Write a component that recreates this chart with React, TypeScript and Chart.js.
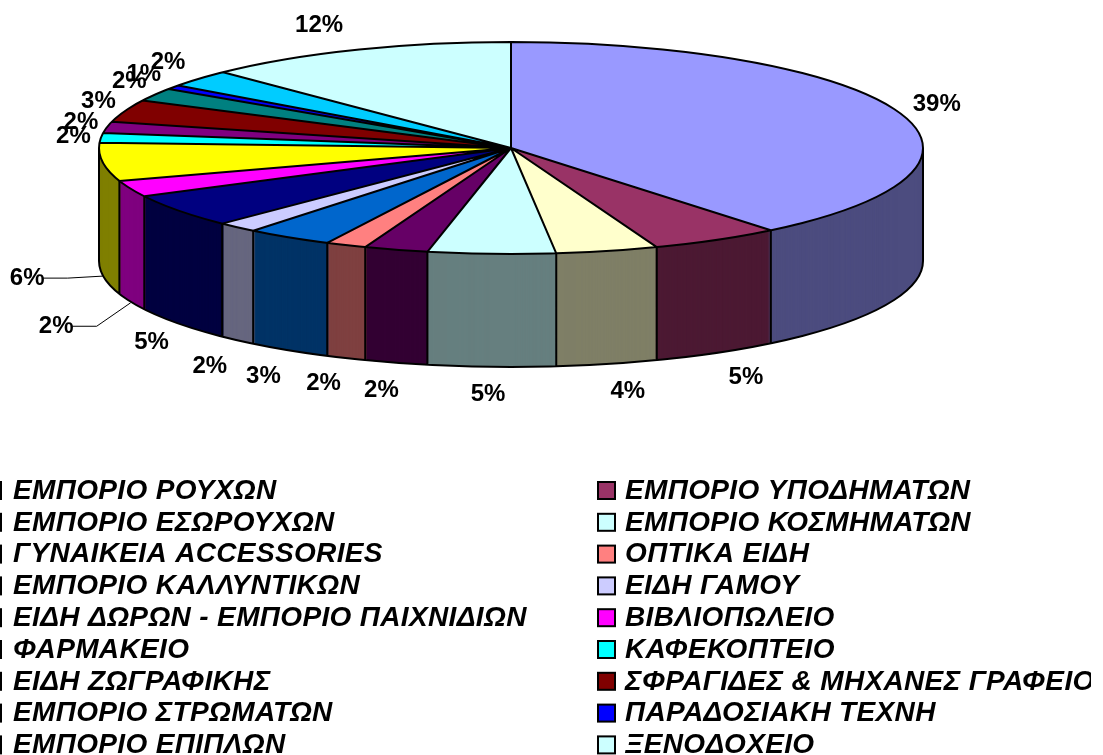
import React, { useEffect, useRef } from "react";
import { Chart, registerables } from "chart.js";

Chart.register(...registerables);

const categories = [
  "ΕΜΠΟΡΙΟ ΡΟΥΧΩΝ", "ΕΜΠΟΡΙΟ ΥΠΟΔΗΜΑΤΩΝ", "ΕΜΠΟΡΙΟ ΕΣΩΡΟΥΧΩΝ", "ΕΜΠΟΡΙΟ ΚΟΣΜΗΜΑΤΩΝ",
  "ΓΥΝΑΙΚΕΙΑ ACCESSORIES", "ΟΠΤΙΚΑ ΕΙΔΗ", "ΕΜΠΟΡΙΟ ΚΑΛΛΥΝΤΙΚΩΝ", "ΕΙΔΗ ΓΑΜΟΥ",
  "ΕΙΔΗ ΔΩΡΩΝ - ΕΜΠΟΡΙΟ ΠΑΙΧΝΙΔΙΩΝ", "ΒΙΒΛΙΟΠΩΛΕΙΟ", "ΦΑΡΜΑΚΕΙΟ", "ΚΑΦΕΚΟΠΤΕΙΟ",
  "ΕΙΔΗ ΖΩΓΡΑΦΙΚΗΣ", "ΣΦΡΑΓΙΔΕΣ & ΜΗΧΑΝΕΣ ΓΡΑΦΕΙΟΥ", "ΕΜΠΟΡΙΟ ΣΤΡΩΜΑΤΩΝ", "ΠΑΡΑΔΟΣΙΑΚΗ ΤΕΧΝΗ",
  "ΕΜΠΟΡΙΟ ΕΠΙΠΛΩΝ", "ΞΕΝΟΔΟΧΕΙΟ",
];
const values = [39.1, 5.1, 4.0, 5.0, 2.5, 1.6, 3.4, 1.6, 5.1, 2.5, 5.8, 1.5, 1.7, 3.4, 2.0, 0.65, 2.65, 12.3];
const percentLabels = ["39%", "5%", "4%", "5%", "2%", "2%", "3%", "2%", "5%", "2%", "6%", "2%", "2%", "3%", "2%", "1%", "2%", "12%"];
const colors = [
  "#9999FF", "#993366", "#FFFFCC", "#CCFFFF", "#660066", "#FF8080", "#0066CC", "#CCCCFF", "#000080",
  "#FF00FF", "#FFFF00", "#00FFFF", "#800080", "#800000", "#008080", "#0000FF", "#00CCFF", "#CCFFFF",
];
// label nudges from the slice's rim point
const labelNudgeX = [37, 29, 20, -4, -15, -23, -26, -28, -28, -75, -76, -28, -26.5, -27, -26, -30, -32, -37];
const labelNudgeY = [-10, 24, 27, 27, 27, 25, 25.5, 25.5, 18, 24.5, 3, -3, -7, -12, -15, -15, -18.5, -26];
const leaderSlices = [9, 10];

const CX = 511, CY = 148, RX = 412, RY = 106, DEPTH = 113;
const LEGEND_ROW0 = 490, LEGEND_STEP = 31.8, LEGEND_RIGHT = 1091;
const LEGEND_COLS = [{ swatch: -16, text: 13 }, { swatch: 598, text: 625 }];

function darken(hex: string): string {
  const n = parseInt(hex.slice(1), 16);
  const c = [(n >> 16) & 255, (n >> 8) & 255, n & 255].map((v) => Math.floor(v / 2));
  return `rgb(${c[0]},${c[1]},${c[2]})`;
}

const rim = (a: number, dy = 0) => ({ x: CX + RX * Math.cos(a), y: CY + RY * Math.sin(a) + dy });

const pie3d = {
  id: "pie3d",
  beforeDatasetsDraw(chart: any) {
    const ctx = chart.ctx;
    const arcs = chart.getDatasetMeta(0).data;
    const a0 = arcs[0];
    const sx = RX / a0.outerRadius, sy = RY / a0.outerRadius;
    for (let d = DEPTH; d >= 1; d--) {
      ctx.save();
      ctx.translate(CX, CY + d);
      ctx.scale(sx, sy);
      ctx.translate(-a0.x, -a0.y);
      arcs.forEach((arc: any, i: number) => {
        const orig = arc.options;
        const o = Object.create(orig);
        Object.defineProperty(o, "backgroundColor", { value: darken(colors[i]) });
        arc.options = o;
        arc.draw(ctx);
        arc.options = orig;
      });
      ctx.restore();
    }
    ctx.save();
    ctx.translate(CX, CY);
    ctx.scale(sx, sy);
    ctx.translate(-a0.x, -a0.y);
  },
  afterDatasetsDraw(chart: any) {
    const ctx = chart.ctx;
    ctx.restore();
    const arcs = chart.getDatasetMeta(0).data;
    ctx.save();
    ctx.strokeStyle = "#000";
    ctx.lineWidth = 2;
    ctx.lineJoin = "round";
    // walls
    ctx.beginPath();
    ctx.ellipse(CX, CY + DEPTH, RX, RY, 0, 0, Math.PI);
    ctx.moveTo(CX + RX, CY);
    ctx.lineTo(CX + RX, CY + DEPTH);
    ctx.moveTo(CX - RX, CY);
    ctx.lineTo(CX - RX, CY + DEPTH);
    arcs.forEach((arc: any) => {
      const p = rim(arc.startAngle);
      if (Math.sin(arc.startAngle) > 0) {
        ctx.moveTo(p.x, p.y);
        ctx.lineTo(p.x, p.y + DEPTH);
      }
    });
    ctx.stroke();
    // top
    ctx.beginPath();
    ctx.ellipse(CX, CY, RX, RY, 0, 0, Math.PI * 2);
    arcs.forEach((arc: any) => {
      const p = rim(arc.startAngle);
      ctx.moveTo(CX, CY);
      ctx.lineTo(p.x, p.y);
    });
    ctx.stroke();
    ctx.restore();
  },
  afterDraw(chart: any) {
    const ctx = chart.ctx;
    const arcs = chart.getDatasetMeta(0).data;
    ctx.save();
    ctx.fillStyle = "#000";
    ctx.textAlign = "center";
    ctx.textBaseline = "middle";
    ctx.font = "bold 24px 'Liberation Sans'";
    arcs.forEach((arc: any, i: number) => {
      const mid = (arc.startAngle + arc.endAngle) / 2;
      const front = Math.sin(mid) > 0;
      const p = rim(mid, front ? DEPTH : 0);
      const lx = p.x + labelNudgeX[i], ly = p.y + labelNudgeY[i];
      ctx.fillText(percentLabels[i], lx + 0.5, ly + (front ? 0.5 : 2));
      if (leaderSlices.includes(i)) {
        ctx.save();
        ctx.strokeStyle = "#000";
        ctx.lineWidth = 1;
        ctx.beginPath();
        ctx.moveTo(lx + 16, ly);
        ctx.lineTo(lx + 41, ly);
        ctx.lineTo(p.x, p.y + 1);
        ctx.stroke();
        ctx.restore();
      }
    });
    ctx.textAlign = "left";
    ctx.font = "italic bold 28px 'Liberation Sans'";
    (ctx as any).letterSpacing = "0.35px";
    ctx.beginPath();
    ctx.rect(0, 460, LEGEND_RIGHT, 295);
    ctx.clip();
    categories.forEach((name, i) => {
      const col = LEGEND_COLS[i % 2];
      const y = LEGEND_ROW0 + Math.floor(i / 2) * LEGEND_STEP;
      ctx.fillStyle = colors[i];
      ctx.fillRect(col.swatch, y - 8, 17, 17);
      ctx.strokeStyle = "#000";
      ctx.lineWidth = 2;
      ctx.strokeRect(col.swatch, y - 8, 17, 17);
      ctx.fillStyle = "#000";
      ctx.fillText(name, col.text, y + 1);
    });
    ctx.restore();
  },
};

export default function App() {
  const ref = useRef<HTMLCanvasElement>(null);
  useEffect(() => {
    const chart = new Chart(ref.current!, {
      type: "pie",
      data: {
        labels: categories,
        datasets: [{ data: values, backgroundColor: colors, borderWidth: 0, clip: false } as any],
      },
      options: {
        responsive: false,
        animation: false,
        plugins: { legend: { display: false }, tooltip: { enabled: false } },
      },
      plugins: [pie3d],
    } as any);
    return () => chart.destroy();
  }, []);
  return (
    <canvas
      ref={ref}
      width={1103}
      height={755}
      style={{ position: "absolute", left: 0, top: 0, width: 1103, height: 755, display: "block" }}
    />
  );
}
